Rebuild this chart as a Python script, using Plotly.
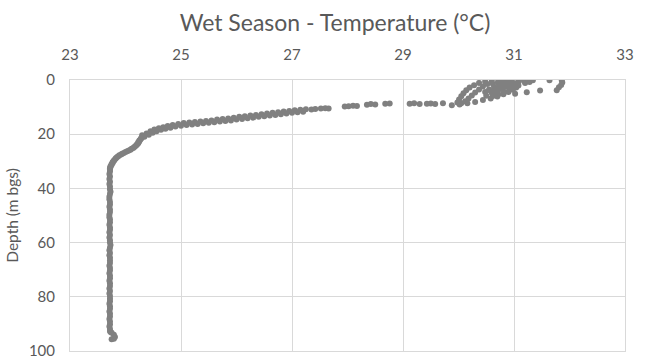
import plotly.graph_objects as go

# Surface mixed layer (0-10 m): several casts looping between 30 and 32 °C
mixed_temp = [
    29.98, 30.01, 30.05, 30.09, 30.14, 30.20, 30.28, 30.37, 30.48, 30.60, 30.72, 30.84,
    30.52, 30.44, 30.37, 30.30, 30.24, 30.18, 30.12, 30.05,
    29.88, 30.02, 30.16, 30.30, 30.44, 30.58, 30.70, 30.81, 30.90, 30.98, 31.04, 31.08,
    30.60, 30.70, 30.80, 30.90, 31.00, 31.08,
    30.72, 30.82, 30.92, 31.00, 31.06,
    30.55, 30.64, 30.73, 30.83, 30.93,
    30.62, 30.71, 30.80, 30.50, 30.62, 30.48,
    30.66, 30.76, 30.86, 30.96, 30.78, 30.88, 30.98, 30.70, 30.58, 30.68,
    30.96, 31.08, 31.18, 31.28, 31.20, 31.34, 31.64, 31.86, 31.87, 31.85, 31.81, 31.77,
    31.02, 31.23, 31.47,
]
mixed_depth = [
    8.3, 7.2, 6.0, 4.9, 3.8, 2.8, 1.9, 1.1, 0.6, 0.3, 0.2, 0.1,
    1.5, 2.4, 3.5, 4.6, 5.7, 6.8, 7.8, 8.6,
    9.3, 9.0, 8.6, 8.1, 7.4, 6.8, 6.1, 5.3, 4.4, 3.6, 2.8, 2.0,
    4.8, 3.9, 3.0, 2.1, 1.3, 0.7,
    5.3, 4.4, 3.5, 2.6, 1.7,
    3.5, 2.6, 1.8, 1.1, 0.5,
    1.5, 0.9, 0.5, 5.8, 5.9, 4.4,
    4.2, 3.3, 2.5, 1.7, 2.2, 1.5, 3.0, 3.0, 4.1, 5.0,
    0.1, 0.2, 0.4, 0.7, 1.1, 0.1, 0.1, 0.1, 0.9, 1.8, 2.7, 3.8,
    5.1, 4.5, 3.9,
]

# Sparse readings across the top of the thermocline
sparse_temp = [27.35, 27.42, 27.52, 27.60, 27.66, 27.95, 28.02, 28.10, 28.17, 28.35,
               28.42, 28.50, 28.68, 28.76, 29.12, 29.20, 29.30, 29.43, 29.50, 29.58, 29.72]
sparse_depth = [10.9, 10.7, 10.5, 10.4, 10.5, 9.8, 9.7, 9.5, 9.6, 9.1,
                8.9, 9.0, 8.8, 8.7, 8.8, 8.6, 8.9, 8.8, 8.7, 8.9, 8.6]

# Thermocline (two casts, 11-21 m)
thermo_a_temp = [24.30, 24.38, 24.45, 24.52, 24.60, 24.68, 24.76, 24.85, 24.95, 25.05,
                 25.15, 25.25, 25.35, 25.45, 25.55, 25.65, 25.75, 25.85, 25.95, 26.05,
                 26.15, 26.25, 26.35, 26.45, 26.55, 26.65, 26.75, 26.85, 26.95, 27.05,
                 27.15, 27.25]
thermo_a_depth = [20.4, 19.7, 18.9, 18.3, 17.8, 17.4, 17.0, 16.6, 16.2, 15.9,
                  15.7, 15.5, 15.3, 15.1, 14.9, 14.6, 14.4, 14.2, 13.9, 13.6,
                  13.4, 13.1, 12.9, 12.6, 12.4, 12.1, 11.9, 11.6, 11.4, 11.2,
                  11.0, 10.8]
thermo_b_temp = [24.34, 24.42, 24.49, 24.56, 24.64, 24.72, 24.81, 24.90, 25.00, 25.10,
                 25.20, 25.30, 25.40, 25.50, 25.60, 25.70, 25.80, 25.90, 26.00, 26.10,
                 26.20, 26.30, 26.40, 26.50, 26.60, 26.70, 26.80, 26.90, 27.00, 27.10,
                 27.20]
thermo_b_depth = [20.9, 20.2, 19.5, 18.9, 18.4, 18.0, 17.6, 17.2, 16.9, 16.6,
                  16.4, 16.2, 16.0, 15.8, 15.6, 15.3, 15.1, 14.9, 14.6, 14.4,
                  14.1, 13.9, 13.6, 13.4, 13.1, 12.9, 12.6, 12.4, 12.1, 11.9,
                  11.7]

# Base of the thermocline (20-33 m)
trans_temp = [24.32, 24.29, 24.27, 24.25, 24.23, 24.20, 24.16, 24.11, 24.06, 24.00,
              23.94, 23.89, 23.85, 23.82, 23.79, 23.77, 23.75, 23.73, 23.72,
              24.28, 24.25, 24.23, 24.21, 24.18, 24.14, 24.09, 24.03, 23.97, 23.92,
              23.87, 23.83, 23.80, 23.77, 23.75, 23.73, 23.72]
trans_depth = [20.7, 21.3, 21.9, 22.6, 23.3, 24.0, 24.7, 25.4, 26.0, 26.6,
               27.2, 27.8, 28.4, 29.1, 29.8, 30.5, 31.3, 32.1, 33.0,
               21.6, 22.3, 23.0, 23.7, 24.4, 25.1, 25.7, 26.3, 26.9, 27.5,
               28.1, 28.8, 29.5, 30.3, 31.0, 31.8, 32.6]

# Isothermal deep water (33-96 m)
deep_temp = [23.72, 23.71, 23.72, 23.71, 23.72, 23.71, 23.72, 23.72, 23.73, 23.72,
             23.71, 23.71, 23.72, 23.72, 23.71, 23.72, 23.72, 23.71, 23.71, 23.72,
             23.72, 23.71, 23.72, 23.72, 23.71, 23.72, 23.71, 23.72, 23.72, 23.73,
             23.72, 23.71, 23.72, 23.71, 23.72, 23.72, 23.72, 23.71, 23.72, 23.72,
             23.71, 23.72, 23.72, 23.71, 23.72, 23.72, 23.71, 23.72, 23.71, 23.72,
             23.72, 23.72, 23.71, 23.72, 23.72, 23.71, 23.72, 23.72, 23.71, 23.72,
             23.75, 23.79, 23.81, 23.79, 23.75]
deep_depth = [33.8, 34.7, 35.6, 36.5, 37.5, 38.4, 39.3, 40.3, 41.2, 42.1,
              43.1, 44.0, 45.0, 45.9, 46.8, 47.8, 48.7, 49.7, 50.6, 51.5,
              52.5, 53.4, 54.4, 55.3, 56.2, 57.2, 58.1, 59.1, 60.0, 60.9,
              61.9, 62.8, 63.8, 64.7, 65.6, 66.6, 67.5, 68.5, 69.4, 70.3,
              71.3, 72.2, 73.2, 74.1, 75.0, 76.0, 76.9, 77.9, 78.8, 79.7,
              80.7, 81.6, 82.6, 83.5, 84.4, 85.4, 86.3, 87.3, 88.2, 89.1,
              93.3, 94.0, 94.8, 95.5, 95.7]
# the 89-93 m stretch of the deep record
deep_tail_temp = [23.72, 23.71, 23.72, 23.72, 23.73]
deep_tail_depth = [90.1, 91.0, 91.9, 92.6, 93.0]

temperature = (mixed_temp + sparse_temp + thermo_a_temp + thermo_b_temp
               + trans_temp + deep_temp + deep_tail_temp)
depth = (mixed_depth + sparse_depth + thermo_a_depth + thermo_b_depth
         + trans_depth + deep_depth + deep_tail_depth)

x_ticks = [23, 25, 27, 29, 31, 33]
y_ticks = [0, 20, 40, 60, 80, 100]

FONT = "Lato, 'Open Sans', sans-serif"
GREY_TEXT = "#595959"
GRID = "#d9d9d9"

fig = go.Figure(
    go.Scatter(
        x=temperature,
        y=depth,
        mode="markers",
        marker=dict(size=6, color="#808080", line=dict(width=0)),
        hoverinfo="x+y",
    )
)

fig.update_layout(
    width=670,
    height=360,
    margin=dict(l=70, r=45, t=80, b=9),
    paper_bgcolor="white",
    plot_bgcolor="white",
    showlegend=False,
    title=dict(
        text="Wet Season - Temperature (°C)",
        x=0.5,
        xanchor="center",
        y=1 - 23 / 360,
        yanchor="middle",
        font=dict(family=FONT, size=23, color=GREY_TEXT),
    ),
    font=dict(family=FONT, color=GREY_TEXT),
)

fig.update_xaxes(
    side="top",
    range=[23, 33],
    tickmode="array",
    tickvals=x_ticks,
    ticktext=[str(v) for v in x_ticks],
    showgrid=True,
    gridcolor=GRID,
    gridwidth=1,
    zeroline=False,
    showline=True,
    mirror=True,
    linecolor=GRID,
    linewidth=1,
    ticks="",
    ticklabelstandoff=13,
    ticklabeloverflow="allow",
    automargin=False,
    tickfont=dict(family=FONT, size=15, color=GREY_TEXT),
)

fig.update_yaxes(
    range=[100, 0],
    tickmode="array",
    tickvals=y_ticks,
    ticktext=[str(v) for v in y_ticks],
    showgrid=True,
    gridcolor=GRID,
    gridwidth=1,
    zeroline=False,
    showline=True,
    mirror=True,
    linecolor=GRID,
    linewidth=1,
    ticks="",
    ticklabelstandoff=11,
    ticklabeloverflow="allow",
    automargin=False,
    tickfont=dict(family=FONT, size=15, color=GREY_TEXT),
    title=dict(
        text="Depth (m bgs)",
        font=dict(family=FONT, size=15.5, color=GREY_TEXT),
        standoff=6,
    ),
)

fig.write_html("out.html")
